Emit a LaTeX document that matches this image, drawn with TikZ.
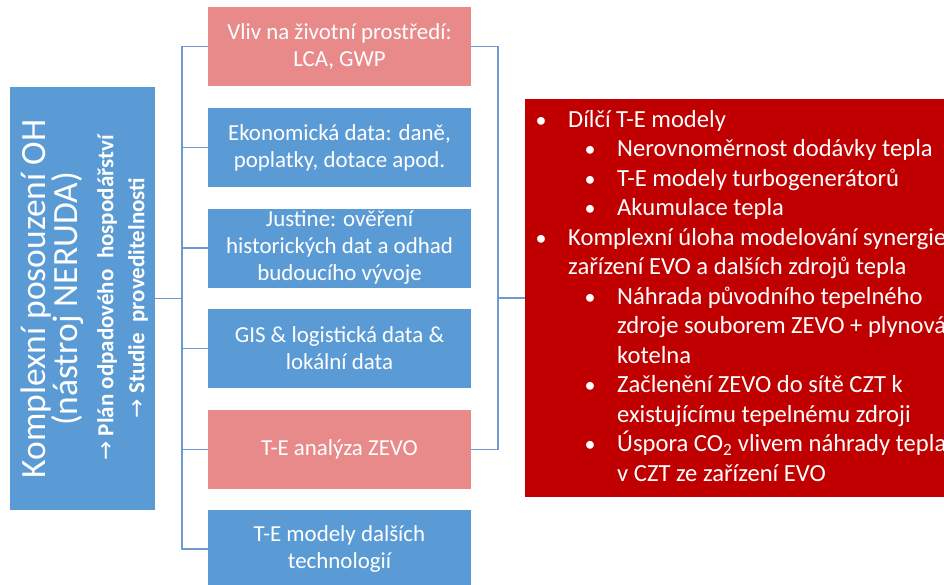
\documentclass[tikz,border=0pt]{standalone}
\usepackage{fontspec}
\setmainfont{Carlito}
\newfontfamily\arrowfont{DejaVu Sans}
\definecolor{boxblue}{HTML}{5B9BD5}
\definecolor{boxpink}{HTML}{E98A8A}
\definecolor{boxred}{HTML}{C00000}
\definecolor{linkblue}{HTML}{7099D0}
\begin{document}
\begin{tikzpicture}[x=1pt,y=-1pt,
  midbox/.style={draw=none, inner sep=0pt, text=white, align=center,
    font=\fontsize{22.9}{27}\selectfont, minimum width=263pt, minimum height=79pt},
  bluebox/.style={midbox, fill=boxblue},
  pinkbox/.style={midbox, fill=boxpink},
  conn/.style={draw=linkblue, line width=1.4pt},
  rtext/.style={anchor=base west, inner sep=0pt, text=white, font=\fontsize{24.6}{29}\selectfont},
  bul/.style={anchor=base, inner sep=0pt, text=white, font=\fontsize{22}{29}\selectfont},
  titletext/.style={rotate=90, inner sep=0pt, text=white, font=\fontsize{35.5}{32}\selectfont},
  subtext/.style={rotate=90, inner sep=0pt, text=white, font=\fontsize{23}{28}\selectfont\bfseries}
]
\useasboundingbox (0,0) rectangle (944,584);
\clip (0,0) rectangle (944,584);
\fill[white] (0,0) rectangle (944,584);

% left box
\node[fill=boxblue, minimum width=145pt, minimum height=423pt, inner sep=0pt] (L) at (82.5,298.5) {};
\node[titletext] (t1) at (36,299) {Komplexní posouzení OH};
\node[titletext] (t2) at (68,299) {(nástroj NERUDA)};
\node[subtext] (s1) at (107,298) {{\arrowfont\mdseries →} Plán odpadového\ \ hospodářství};
\node[subtext] (s2) at (138,298) {{\arrowfont\mdseries →} Studie\ \ proveditelnosti};

% middle boxes
\node[pinkbox] (m1) at (339.5,46.5) {Vliv na životní prostředí:\\LCA, GWP};
\node[bluebox] (m2) at (339.5,147.5) {Ekonomická data: daně,\\poplatky, dotace apod.};
\node[bluebox] (m3) at (339.5,248) {Justine: ověření\\historických dat a odhad\\budoucího vývoje};
\node[bluebox] (m4) at (339.5,348.5) {GIS \& logistická data \&\\lokální data};
\node[pinkbox] (m5) at (339.5,449.5) {T-E analýza ZEVO};
\node[bluebox] (m6) at (339.5,549) {T-E modely dalších\\technologií};

% red box
\node[fill=boxred, minimum width=435pt, minimum height=398pt, inner sep=0pt] (R) at (742.5,298) {};
\node[bul] (b1) at (541,127) {•};
\node[rtext] (r1) at (568,127) {Dílčí T-E modely};
\node[bul] (b2) at (590,156.5) {•};
\node[rtext] (r2) at (617,156.5) {Nerovnoměrnost dodávky tepla};
\node[bul] (b3) at (590,186) {•};
\node[rtext] (r3) at (617,186) {T-E modely turbogenerátorů};
\node[bul] (b4) at (590,215.5) {•};
\node[rtext] (r4) at (617,215.5) {Akumulace tepla};
\node[bul] (b5) at (541,245) {•};
\node[rtext] (r5) at (568,245) {Komplexní úloha modelování synergie};
\node[rtext] (r6) at (568,274.5) {zařízení EVO a dalších zdrojů tepla};
\node[bul] (b7) at (590,304) {•};
\node[rtext] (r7) at (617,304) {Náhrada původního tepelného};
\node[rtext] (r8) at (617,333.5) {zdroje souborem ZEVO + plynová};
\node[rtext] (r9) at (617,363) {kotelna};
\node[bul] (b10) at (590,392.5) {•};
\node[rtext] (r10) at (617,392.5) {Začlenění ZEVO do sítě CZT k};
\node[rtext] (r11) at (617,422) {existujícímu tepelnému zdroji};
\node[bul] (b12) at (590,451.5) {•};
\node[rtext] (r12) at (617,451.5) {Úspora CO\textsubscript{2} vlivem náhrady tepla};
\node[rtext] (r13) at (617,481) {v CZT ze zařízení EVO};

% connectors
\coordinate (bx) at (182,0);
\coordinate (rx) at (498,0);
\draw[conn] (m1.west) -- (m1.west -| bx) -- (m6.west -| bx) -- (m6.west);
\foreach \i in {2,3,4,5} {\draw[conn] (m\i.west) -- (m\i.west -| bx);}
\draw[conn] (L.east) -- (L.east -| bx);
\draw[conn] (m1.east) -- (m1.east -| rx) -- (m5.east -| rx) -- (m5.east);
\draw[conn] (R.west) -- (R.west -| rx);
\end{tikzpicture}
\end{document}
